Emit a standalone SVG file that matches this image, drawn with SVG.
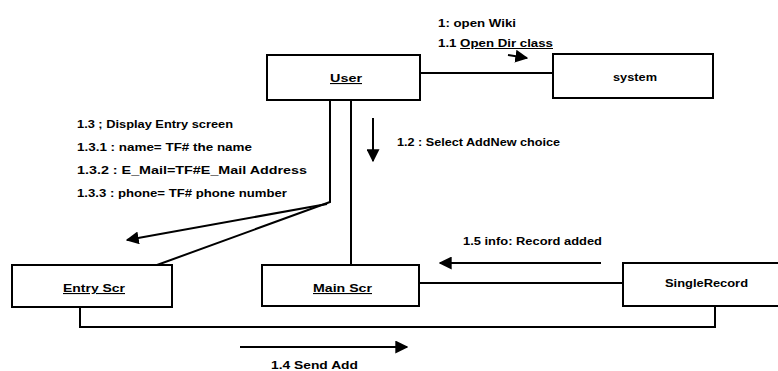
<svg xmlns="http://www.w3.org/2000/svg" width="778" height="371" viewBox="0 0 778 371">
<defs>
<style>
.box{fill:#fff;stroke:#000;stroke-width:2}
.ln{fill:none;stroke:#000;stroke-width:2}
.msg{fill:none;stroke:#000;stroke-width:2;marker-end:url(#ah)}
text{font-family:"Liberation Sans",Arial,sans-serif;font-size:10px;font-weight:bold;fill:#000}
.b{font-size:11px}
.u{text-decoration:underline}
</style>
<marker id="ah" viewBox="0 0 10 10" refX="9" refY="5" markerWidth="6.5" markerHeight="6.5" markerUnits="strokeWidth" orient="auto">
<path d="M0,0 L10,5 L0,10 z" fill="#000"/>
</marker>
</defs>
<g id="connectors">
<line class="ln" x1="420" y1="73" x2="553" y2="73"/>
<line class="ln" x1="351" y1="100" x2="351" y2="265"/>
<polyline class="ln" points="330,100 330,202 157,265"/>
<polyline class="ln" points="80,307 80,327 715,327 715,306"/>
<line class="ln" x1="419" y1="283" x2="623" y2="283"/>
</g>
<g id="messages">
<line class="msg" x1="508" y1="55" x2="527" y2="58"/>
<line class="msg" x1="373" y1="118" x2="373" y2="161"/>
<line class="msg" x1="327" y1="204" x2="127" y2="240"/>
<line class="msg" x1="240" y1="347" x2="407" y2="347"/>
<line class="msg" x1="601" y1="263" x2="440" y2="263"/>
<text x="438" y="27" textLength="78" lengthAdjust="spacingAndGlyphs">1: open Wiki</text>
<text x="438" y="47" textLength="115" lengthAdjust="spacingAndGlyphs">1.1  <tspan class="u">Open Dir class</tspan></text>
<text x="397" y="146" textLength="163" lengthAdjust="spacingAndGlyphs">1.2 : Select AddNew choice</text>
<text x="77" y="128" textLength="156" lengthAdjust="spacingAndGlyphs">1.3 ; Display Entry screen</text>
<text x="77" y="151" textLength="175" lengthAdjust="spacingAndGlyphs">1.3.1  : name= TF# the name</text>
<text x="77" y="174" textLength="230" lengthAdjust="spacingAndGlyphs">1.3.2 : E_Mail=TF#E_Mail   Address</text>
<text x="77" y="197" textLength="210" lengthAdjust="spacingAndGlyphs">1.3.3 : phone= TF# phone number</text>
<text x="463" y="245" textLength="139" lengthAdjust="spacingAndGlyphs">1.5  info: Record added</text>
<text x="271" y="369" textLength="87" lengthAdjust="spacingAndGlyphs">1.4  Send Add</text>
</g>
<g id="user">
<rect class="box" x="267" y="55" width="153" height="45"/>
<text class="b u" x="330" y="82" textLength="32" lengthAdjust="spacingAndGlyphs">User</text>
</g>
<g id="system">
<rect class="box" x="553" y="54" width="160" height="44"/>
<text class="b" x="613" y="81" textLength="44" lengthAdjust="spacingAndGlyphs">system</text>
</g>
<g id="entryscr">
<rect class="box" x="12" y="265" width="160" height="42"/>
<text class="b u" x="63" y="292" textLength="62" lengthAdjust="spacingAndGlyphs">Entry Scr</text>
</g>
<g id="mainscr">
<rect class="box" x="262" y="265" width="157" height="41"/>
<text class="b u" x="313" y="292" textLength="59" lengthAdjust="spacingAndGlyphs">Main Scr</text>
</g>
<g id="singlerecord">
<rect class="box" x="623" y="263" width="160" height="43"/>
<text class="b" x="665" y="287" textLength="83" lengthAdjust="spacingAndGlyphs">SingleRecord</text>
</g>
</svg>
